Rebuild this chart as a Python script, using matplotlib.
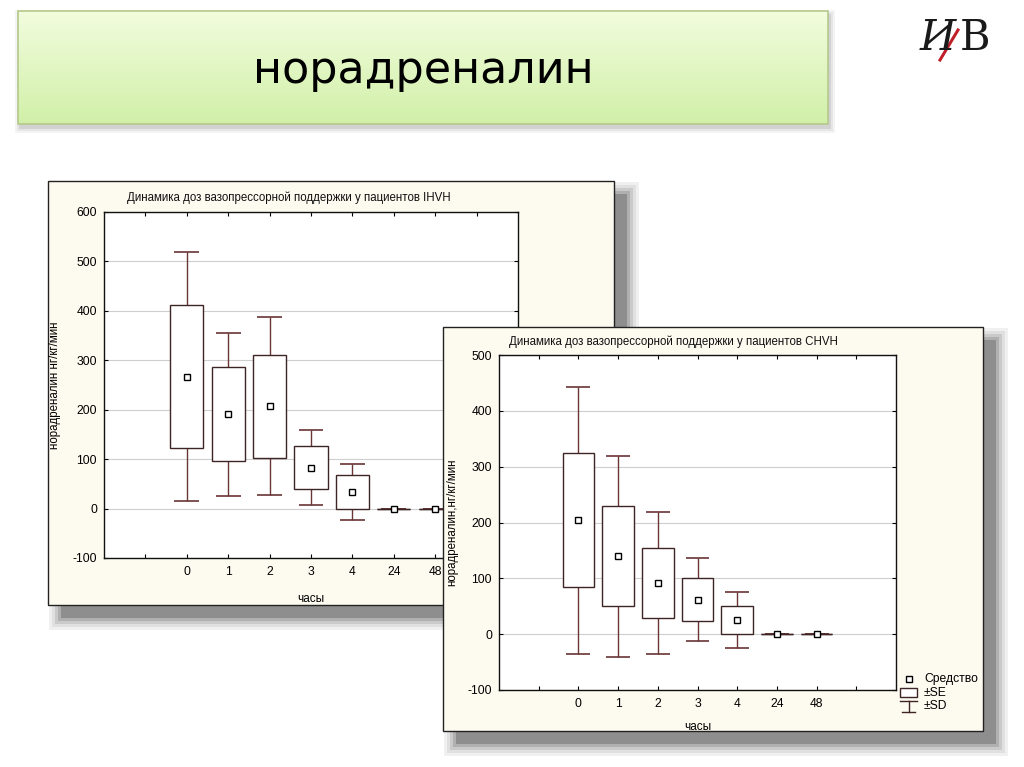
import numpy as np
import matplotlib
matplotlib.use('Agg')
import matplotlib.pyplot as plt
from matplotlib.patches import Rectangle

plt.rcParams['font.family'] = ['Liberation Sans', 'DejaVu Sans']
plt.rcParams['axes.unicode_minus'] = False

# ---- data ----
categories = ['0', '1', '2', '3', '4', '24', '48']
ihvh_mean = [267, 191, 207, 83, 33, 0, 0]
ihvh_se = [145, 95, 104, 44, 34, 0, 0]
ihvh_sd = [252, 165, 180, 76, 57, 0, 0]
chvh_mean = [204, 140, 92, 62, 25, 0, 0]
chvh_se = [120, 90, 63, 38, 25, 0, 0]
chvh_sd = [239, 180, 127, 75, 50, 0, 0]

slide_title = 'норадреналин'
title_left = 'Динамика доз вазопрессорной поддержки у пациентов IHVH'
title_right = 'Динамика доз вазопрессорной поддержки у пациентов CHVH'
ylabel_left = 'норадреналин нг/кг/мин'
ylabel_right = 'норадреналин,нг/кг/мин'
xlabel = 'часы'
legend_labels = ['Средство', '±SE', '±SD']

W, H = 1024, 767
fig = plt.figure(figsize=(W / 100, H / 100), dpi=100)
fig.patch.set_facecolor('white')


def frac(x0, y0, x1, y1):
    return [x0 / W, 1 - y1 / H, (x1 - x0) / W, (y1 - y0) / H]


def overlay(z):
    a = fig.add_axes([0, 0, 1, 1], zorder=z)
    a.axis('off')
    a.patch.set_alpha(0)
    return a


def lims(a):
    a.set_xlim(0, W)
    a.set_ylim(H, 0)


def panel(a, x0, y0, x1, y1):
    s = 13
    for e, c in [(12, '#f0f0f0'), (9, '#e0e0e0'), (6, '#cacaca'), (3, '#b0b0b0'), (0, '#8e8e8e')]:
        a.add_patch(Rectangle((x0 + s - e, y0 + s - e), x1 - x0 + 2 * e, y1 - y0 + 2 * e,
                              fc=c, ec='none'))
    a.add_patch(Rectangle((x0, y0), x1 - x0, y1 - y0, fc='#fdfaf0', ec='#222222', lw=1))


BOX_C = '#3e2424'
WHISK_C = '#6a3535'


def chart(ax, mean, se, sd, ymin, ymax, title, tx, ylabel, ylx, xly):
    mean = np.array(mean, float)
    se = np.array(se, float)
    sd = np.array(sd, float)
    x = np.arange(len(categories))
    ax.set_facecolor('white')
    ax.set_xlim(-2, 8)
    ax.set_ylim(ymin, ymax)
    ax.set_yticks(np.arange(ymin, ymax + 1, 100))
    ax.set_xticks(np.arange(-1, 8))
    ax.set_xticklabels([''] + categories + [''])
    ax.tick_params(direction='in', length=3, top=True, right=True, labelsize=8.7,
                   width=0.8, colors='black', pad=6)
    ax.tick_params(axis='y', pad=5)
    ax.grid(axis='y', color='#cfcfcf', lw=0.8)
    ax.set_axisbelow(True)
    for sp in ax.spines.values():
        sp.set_color('#111111')
        sp.set_linewidth(1)
    ax.vlines(x, mean - sd, mean + sd, color=WHISK_C, lw=1, zorder=2)
    ax.hlines(mean + sd, x - 0.3, x + 0.3, color=WHISK_C, lw=1.2, zorder=2)
    ax.hlines(mean - sd, x - 0.3, x + 0.3, color=WHISK_C, lw=1.2, zorder=2)
    ax.bar(x, 2 * se, bottom=mean - se, width=0.8, fc='white', ec=BOX_C, lw=1, zorder=3)
    ax.hlines(mean[se == 0], x[se == 0] - 0.4, x[se == 0] + 0.4, color=BOX_C, lw=1, zorder=3)
    ax.plot(x, mean, 's', ms=4.5, mfc='white', mec='black', mew=1, zorder=4)
    ax.text(tx, 1.04, title, transform=ax.transAxes, ha='center', va='center',
            fontsize=8.3, color='#111111')
    ax.set_ylabel(ylabel, fontsize=8.3)
    ax.yaxis.set_label_coords(ylx, 0.5)
    ax.set_xlabel(xlabel, fontsize=8.5)
    ax.xaxis.set_label_coords(0.5, xly)


# ---- background: slide title banner + left panel ----
bg = overlay(0)
for e, c in [(5, '#f4f4f4'), (3, '#e6e6e6'), (1, '#d2d2d2')]:
    bg.add_patch(Rectangle((18 - e + 2, 11 - e + 4), 810 + 2 * e, 113 + 2 * e, fc=c, ec='none'))
grad = np.linspace(0, 1, 100)[:, None, None]
top = np.array([0.95, 0.99, 0.87])
bot = np.array([0.82, 0.94, 0.66])
img = top + (bot - top) * grad
bg.imshow(img, extent=(18, 828, 124, 11), aspect='auto', zorder=1)
bg.add_patch(Rectangle((18, 11), 810, 113, fc='none', ec='#b5c98c', lw=1.2, zorder=2))
bg.text(423, 70, slide_title, fontsize=32, ha='center', va='center',
        family='DejaVu Sans', color='black', zorder=3)

# logo
bg.text(938, 38, 'И', fontsize=30, family='DejaVu Serif', style='italic',
        ha='center', va='center', color='#1a1a1a')
bg.text(975, 38, 'В', fontsize=30, family='DejaVu Serif',
        ha='center', va='center', color='#1a1a1a')
bg.plot([940, 958], [60, 30], color='#c0202a', lw=2.2)

panel(bg, 48, 181, 614, 605)
lims(bg)

# ---- left chart ----
axL = fig.add_axes(frac(104, 212, 518, 558), zorder=1)
chart(axL, ihvh_mean, ihvh_se, ihvh_sd, -100, 600, title_left, 0.447, ylabel_left, -0.104, -0.101)

# ---- right panel ----
bg2 = overlay(2)
panel(bg2, 443, 327, 983, 731)
# legend
bg2.plot([909], [679], 's', ms=4.5, mfc='white', mec='black', mew=1)
bg2.add_patch(Rectangle((900, 688), 17, 9, fc='white', ec=BOX_C, lw=1))
bg2.plot([900, 917], [701, 701], color=BOX_C, lw=1)
bg2.plot([908.5, 908.5], [701, 712], color=BOX_C, lw=1)
bg2.plot([902, 915], [712, 712], color=BOX_C, lw=1)
for yy, lab in zip([679, 693, 706], legend_labels):
    bg2.text(924, yy, lab, fontsize=8.7, ha='left', va='center', color='black')
lims(bg2)

# ---- right chart ----
axR = fig.add_axes(frac(499, 355, 896, 690), zorder=3)
chart(axR, chvh_mean, chvh_se, chvh_sd, -100, 500, title_right, 0.44, ylabel_right, -0.102, -0.093)

fig.savefig('out.png', dpi=100, facecolor='white')
